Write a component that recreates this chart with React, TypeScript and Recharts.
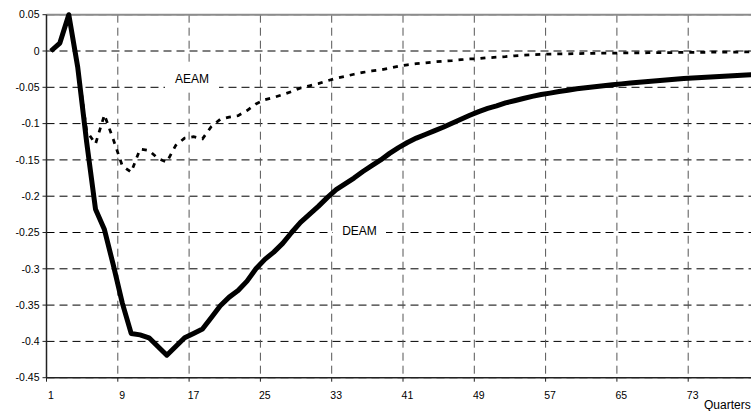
import React from 'react';
import {
  LineChart,
  Line,
  XAxis,
  YAxis,
  CartesianGrid,
  ReferenceLine,
} from 'recharts';

// quarter index 1..80
const QUARTERS = Array.from({ length: 80 }, (_, i) => i + 1);

const DEAM = [
  0, 0.011, 0.05, -0.022, -0.125, -0.218, -0.246, -0.295, -0.347, -0.389,
  -0.391, -0.395, -0.407, -0.419, -0.407, -0.395, -0.389, -0.383, -0.367, -0.351,
  -0.339, -0.33, -0.317, -0.3, -0.287, -0.277, -0.265, -0.25, -0.236, -0.225,
  -0.214, -0.202, -0.191, -0.183, -0.175, -0.166, -0.158, -0.15, -0.141, -0.133,
  -0.126, -0.12, -0.115, -0.11, -0.105, -0.0995, -0.094, -0.0885, -0.0835, -0.079,
  -0.0755, -0.0715, -0.0685, -0.0655, -0.0625, -0.06, -0.058, -0.0558, -0.054, -0.052,
  -0.0505, -0.0492, -0.048, -0.0466, -0.0453, -0.0441, -0.043, -0.042, -0.041, -0.04,
  -0.039, -0.038, -0.0372, -0.0364, -0.0357, -0.035, -0.0343, -0.0337, -0.0331, -0.0325,
];

const AEAM = [
  0, 0.011, 0.05, -0.02, -0.11, -0.128, -0.088, -0.122, -0.158, -0.167,
  -0.135, -0.137, -0.148, -0.153, -0.13, -0.12, -0.118, -0.121, -0.104, -0.094,
  -0.091, -0.089, -0.082, -0.073, -0.067, -0.064, -0.06, -0.056, -0.051, -0.048,
  -0.045, -0.041, -0.0375, -0.035, -0.032, -0.0295, -0.0275, -0.026, -0.0237, -0.021,
  -0.019, -0.0175, -0.0163, -0.015, -0.014, -0.0132, -0.012, -0.011, -0.0105, -0.0093,
  -0.0085, -0.0078, -0.0066, -0.0058, -0.0052, -0.0046, -0.0042, -0.004, -0.0038, -0.0036,
  -0.0034, -0.0032, -0.003, -0.0029, -0.0027, -0.0026, -0.0025, -0.0024, -0.0023, -0.0022,
  -0.0021, -0.002, -0.0019, -0.0018, -0.0017, -0.0016, -0.0015, -0.0014, -0.0013, -0.0012,
];

// category boundaries carry the gridlines; labels sit mid-category
const X_TICKS = [0.5, 8.5, 16.5, 24.5, 32.5, 40.5, 48.5, 56.5, 64.5, 72.5, 80.5];
const Y_TICKS = [0.05, 0, -0.05, -0.1, -0.15, -0.2, -0.25, -0.3, -0.35, -0.4, -0.45];

const data = QUARTERS.map((q, i) => ({ q, deam: DEAM[i], aeam: AEAM[i] }));

const FONT = 'Arial, "Liberation Sans", sans-serif';
const CHART_W = 790;
const CHART_H = 411;
const Y_AXIS_W = 46.5;
const MARGIN = { top: 14.7, right: 30.5, left: 0, bottom: 13.3 };
const PLOT_W = CHART_W - MARGIN.left - MARGIN.right - Y_AXIS_W;
const CAT_W = PLOT_W / QUARTERS.length;

const XTick = (props: any) => {
  const { x, y, payload } = props;
  const q = payload.value + 0.5;
  if (q > 80) return <g />;
  return (
    <text x={x + CAT_W / 2} y={y} dy="0.71em" textAnchor="middle" fontSize={10.5} fontFamily={FONT} fill="#000">
      {q}
    </text>
  );
};

// series name on a white box, as the label floats over the grid
const SeriesTag = ({ x, y, w, h, text }: { x: number; y: number; w: number; h: number; text: string }) => (
  <g>
    <rect x={x} y={y} width={w} height={h} fill="#fff" />
    <text x={x + w / 2} y={y + h / 2} dy="0.355em" textAnchor="middle" fontSize={12} fontFamily={FONT} fill="#000">
      {text}
    </text>
  </g>
);

export default function App() {
  return (
    <div style={{ position: 'absolute', left: 0, top: 0, width: 751, height: 411, overflow: 'hidden', background: '#fff' }}>
      <LineChart width={CHART_W} height={CHART_H} data={data} margin={MARGIN}>
        <CartesianGrid horizontal={true} vertical={false} stroke="#000" strokeDasharray="8 5" />
        <CartesianGrid horizontal={false} vertical={true} stroke="#555" strokeDasharray="8 5" />
        <XAxis
          dataKey="q"
          type="number"
          domain={[0.5, 80.5]}
          ticks={X_TICKS}
          height={20}
          tick={XTick}
          tickSize={4}
          tickMargin={10}
          axisLine={{ stroke: '#222', strokeWidth: 1.5 }}
          tickLine={{ stroke: '#222' }}
        />
        <YAxis
          type="number"
          domain={[-0.45, 0.05]}
          ticks={Y_TICKS}
          width={Y_AXIS_W}
          tickSize={4}
          tickMargin={3}
          tickFormatter={(v: number) => String(Math.round(v * 100) / 100)}
          tick={{ fontSize: 10.5, fontFamily: FONT, fill: '#000' }}
          axisLine={{ stroke: '#222', strokeWidth: 1.5 }}
          tickLine={{ stroke: '#222' }}
        />
        <ReferenceLine y={0.05} stroke="#8c8c8c" strokeWidth={2} />
        <Line
          dataKey="aeam"
          type="linear"
          stroke="#000"
          strokeWidth={2.75}
          strokeDasharray="5 6"
          dot={false}
          isAnimationActive={false}
        />
        <Line
          dataKey="deam"
          type="linear"
          stroke="#000"
          strokeWidth={5}
          strokeLinejoin="round"
          dot={false}
          isAnimationActive={false}
        />
        <SeriesTag x={165} y={66} w={54} h={26} text="AEAM" />
        <SeriesTag x={333} y={218} w={53} h={26} text="DEAM" />
        <text x={704} y={409} fontSize={12} fontFamily={FONT} fill="#000">Quarters</text>
      </LineChart>
    </div>
  );
}
